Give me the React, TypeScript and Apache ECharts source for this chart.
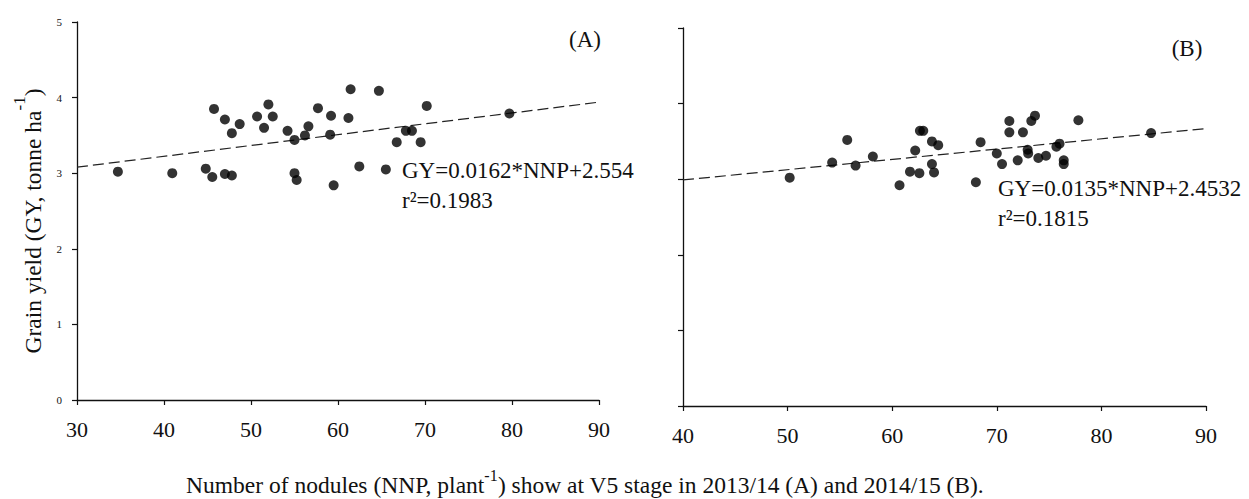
import React, { useEffect, useRef } from "react";
import * as echarts from "echarts";

const nnpA = [34.7, 40.95, 44.8, 45.55, 45.75, 47.0, 47.0, 47.8, 47.8, 48.7, 50.7, 52.0, 51.5, 52.5, 54.2, 55.0, 55.0, 55.25, 56.2, 56.6, 57.7, 59.2, 59.1, 61.2, 61.45, 64.7, 59.5, 62.45, 65.5, 66.75, 67.8, 68.5, 69.5, 70.2, 79.7];
const gyA = [3.02, 3.0, 3.06, 2.95, 3.85, 3.71, 2.99, 2.97, 3.53, 3.65, 3.75, 3.91, 3.6, 3.75, 3.56, 3.44, 3.0, 2.91, 3.5, 3.62, 3.86, 3.76, 3.51, 3.73, 4.11, 4.09, 2.84, 3.09, 3.05, 3.41, 3.56, 3.56, 3.41, 3.89, 3.79];
const nnpB = [50.2, 54.26, 55.7, 56.5, 58.15, 60.7, 61.7, 62.6, 62.2, 62.65, 62.97, 63.8, 63.8, 64.0, 64.4, 68.0, 68.45, 70.0, 70.5, 71.2, 71.2, 72.0, 72.5, 72.95, 73.0, 73.3, 73.65, 73.97, 74.7, 75.7, 76.0, 76.4, 76.4, 77.8, 84.75];
const gyB = [3.02, 3.22, 3.52, 3.18, 3.3, 2.92, 3.1, 3.08, 3.38, 3.64, 3.64, 3.5, 3.2, 3.09, 3.45, 2.96, 3.49, 3.34, 3.2, 3.77, 3.62, 3.25, 3.62, 3.39, 3.34, 3.77, 3.84, 3.28, 3.31, 3.43, 3.47, 3.25, 3.2, 3.78, 3.61];

// fitted lines as drawn (endpoints at axis limits)
const trendAx = [30, 90];
const trendAy = [3.08, 3.94];
const trendBx = [40, 90];
const trendBy = [2.99, 3.67];

const eqA = ["GY=0.0162*NNP+2.554", "r²=0.1983"];
const eqB = ["GY=0.0135*NNP+2.4532", "r²=0.1815"];
const panelLabels = ["(A)", "(B)"];
const yTitle = ["Grain yield (GY, tonne ha", "-1", ")"];
const caption = ["Number of nodules (NNP, plant", "-1", ") show at V5 stage in 2013/14 (A) and 2014/15 (B)."];

const FONT = "Liberation Serif";
const INK = "#111";

export default function App() {
  const ref = useRef<HTMLDivElement>(null);
  useEffect(() => {
    const chart = echarts.init(ref.current!, null, { renderer: "svg" });
    const axisLine = { show: true, lineStyle: { color: INK, width: 1.3 } };
    const xAxisCommon = (min: number) => ({
      type: "value",
      min,
      max: 90,
      interval: 10,
      splitLine: { show: false },
      axisLine: { ...axisLine, onZero: false },
      axisTick: { show: true, inside: false, length: 5, lineStyle: { color: INK, width: 1.2 } },
      axisLabel: { fontFamily: FONT, fontSize: 22, color: INK, margin: 18 },
    });
    const option = {
      animation: false,
      backgroundColor: "#fff",
      grid: [
        { left: 77, top: 22, width: 522, height: 378 },
        { left: 683, top: 28, width: 523, height: 378 },
      ],
      xAxis: [
        { ...xAxisCommon(30), gridIndex: 0 },
        { ...xAxisCommon(40), gridIndex: 1 },
      ],
      yAxis: [
        {
          type: "value", gridIndex: 0, min: 0, max: 5, interval: 1,
          splitLine: { show: false }, axisLine,
          axisTick: { show: true, length: 5, lineStyle: { color: INK, width: 1.2 } },
          axisLabel: { fontFamily: FONT, fontSize: 11, color: INK, margin: 15 },
        },
        {
          type: "value", gridIndex: 1, min: 0, max: 5, interval: 1,
          splitLine: { show: false }, axisLine,
          axisTick: { show: true, length: 5, lineStyle: { color: INK, width: 1.2 } },
          axisLabel: { show: false },
        },
      ],
      series: [
        {
          type: "line", xAxisIndex: 0, yAxisIndex: 0, symbol: "none", silent: true,
          data: trendAx.map((x, i) => [x, trendAy[i]]),
          lineStyle: { color: "#222", width: 1.2, type: [11, 5] }, z: 1,
        },
        {
          type: "line", xAxisIndex: 1, yAxisIndex: 1, symbol: "none", silent: true,
          data: trendBx.map((x, i) => [x, trendBy[i]]),
          lineStyle: { color: "#222", width: 1.2, type: [11, 5] }, z: 1,
        },
        {
          type: "scatter", xAxisIndex: 0, yAxisIndex: 0, symbolSize: 10,
          itemStyle: { color: "#000" }, z: 2,
          data: nnpA.map((x, i) => [x, gyA[i]]),
        },
        {
          type: "scatter", xAxisIndex: 1, yAxisIndex: 1, symbolSize: 10,
          itemStyle: { color: "#000" }, z: 2,
          data: nnpB.map((x, i) => [x, gyB[i]]),
        },
      ],
      graphic: [
        { type: "text", x: 585, y: 39, style: { text: panelLabels[0], fontFamily: FONT, fontSize: 23, fill: INK, align: "center", verticalAlign: "middle" } },
        { type: "text", x: 1187, y: 48, style: { text: panelLabels[1], fontFamily: FONT, fontSize: 23, fill: INK, align: "center", verticalAlign: "middle" } },
        { type: "text", x: 402, y: 170, style: { text: eqA[0], fontFamily: FONT, fontSize: 23, fill: INK, align: "left", verticalAlign: "middle" } },
        { type: "text", x: 402, y: 200, style: { text: eqA[1], fontFamily: FONT, fontSize: 23, fill: INK, align: "left", verticalAlign: "middle" } },
        { type: "text", x: 998, y: 188, style: { text: eqB[0], fontFamily: FONT, fontSize: 23, fill: INK, align: "left", verticalAlign: "middle" } },
        { type: "text", x: 998, y: 218, style: { text: eqB[1], fontFamily: FONT, fontSize: 23, fill: INK, align: "left", verticalAlign: "middle" } },
        {
          type: "text", x: 28, y: 221, rotation: Math.PI / 2,
          style: {
            text: `{a|${yTitle[0]}}{s|${yTitle[1]}}{a|${yTitle[2]}}`,
            align: "center", verticalAlign: "middle",
            rich: {
              a: { fontFamily: FONT, fontSize: 23.5, fill: INK, lineHeight: 34, verticalAlign: "bottom" },
              s: { fontFamily: FONT, fontSize: 17, fill: INK, lineHeight: 34, verticalAlign: "top" },
            },
          },
        },
        {
          type: "text", x: 585, y: 482,
          style: {
            text: `{a|${caption[0]}}{s|${caption[1]}}{a|${caption[2]}}`,
            align: "center", verticalAlign: "middle",
            rich: {
              a: { fontFamily: FONT, fontSize: 23.5, fill: INK, lineHeight: 30, verticalAlign: "bottom" },
              s: { fontFamily: FONT, fontSize: 16, fill: INK, lineHeight: 30, verticalAlign: "top" },
            },
          },
        },
      ],
    };
    chart.setOption(option as any);
    return () => chart.dispose();
  }, []);
  return (
    <div
      ref={ref}
      style={{ position: "fixed", left: 0, top: 0, width: 1249, height: 499, background: "#fff" }}
    />
  );
}
